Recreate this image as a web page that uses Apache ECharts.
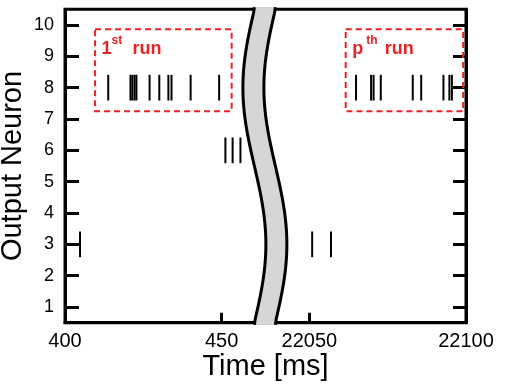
<!DOCTYPE html>
<html>
<head>
<meta charset="utf-8">
<style>
  html, body { margin: 0; padding: 0; background: #fff; }
  #chart { width: 510px; height: 387px; }
</style>
<script src="https://cdn.jsdelivr.net/npm/echarts@6/dist/echarts.min.js"></script>
</head>
<body>
<div id="chart"></div>
<script>
// spike times in ms, one array per neuron and per stretch of time
const run1Neuron8 = [413.8, 420.9, 421.5, 422.2, 422.8, 427.0, 430.1, 433.0, 434.0, 440.1, 449.2];
const run1Neuron6 = [451.2, 453.5, 456.0];
const run1Neuron3 = [404.8];
const lateNeuron3 = [22050.9, 22056.9];
const runPNeuron8 = [22064.9, 22069.7, 22070.5, 22072.8, 22083.0, 22085.7, 22092.8, 22094.7, 22095.5];

const xTickLabels = [400, 450, 22050, 22100];
const xMinorTicks = [450, 22050];
const yTicks = [1, 2, 3, 4, 5, 6, 7, 8, 9, 10];

// dashed boxes round the two runs
const boxX = [[409.6, 453.2], [22061.6, 22099.1]];
const boxY = [7.25, 9.86];
const boxLabel = ['1', 'p'];
const boxSup = ['st', 'th'];

// broken time axis: the late part is moved right after the early part
const breakShift = 21572;
function toAxis(t) { return t > 10000 ? t - breakShift : t; }
function fromAxis(v) { return v > 470 ? v + breakShift : v; }

const font = '"Liberation Sans", Arial, Helvetica, sans-serif';
const red = '#ec2224';

const chart = echarts.init(document.getElementById('chart'));

const spikeData = [];
run1Neuron8.forEach((t) => spikeData.push([toAxis(t), 8]));
run1Neuron6.forEach((t) => spikeData.push([toAxis(t), 6]));
run1Neuron3.forEach((t) => spikeData.push([toAxis(t), 3]));
lateNeuron3.forEach((t) => spikeData.push([toAxis(t), 3]));
runPNeuron8.forEach((t) => spikeData.push([toAxis(t), 8]));

// break band (S shape), in axis units
const bandCenter = 463.8;
const bandSwing = 3.67;
const bandHalf = 3.35;

const labelPos = [
  { main: 6.5, sup: 16.5, run: 37.5 },
  { main: 6.5, sup: 20.5, run: 39.0 },
];

const option = {
  animation: false,
  grid: {
    left: 65,
    right: 44,
    top: 9.3,
    bottom: 64.3,
    outerBoundsMode: 'none',
    containLabel: false,
    show: true,
    borderColor: '#000',
    borderWidth: 3,
  },
  xAxis: {
    type: 'value',
    min: 400,
    max: 528,
    axisLine: { show: true, lineStyle: { color: '#000', width: 3 } },
    axisTick: {
      show: true,
      inside: true,
      length: 10,
      customValues: xMinorTicks.map(toAxis),
      lineStyle: { color: '#000', width: 3 },
    },
    axisLabel: {
      customValues: xTickLabels.map(toAxis),
      formatter: (v) => String(Math.round(fromAxis(v))),
      color: '#000',
      fontSize: 20,
      fontFamily: font,
      margin: 9,
    },
    splitLine: { show: false },
    name: 'Time [ms]',
    nameLocation: 'middle',
    nameGap: 29.5,
    nameMoveOverlap: false,
    nameTextStyle: { fontSize: 29, color: '#000', fontFamily: font },
  },
  yAxis: [
    {
      type: 'value',
      min: 0.5,
      max: 10.5,
      axisLine: { show: true, lineStyle: { color: '#000', width: 3 } },
      axisTick: {
        show: true,
        inside: true,
        length: 14,
        customValues: yTicks,
        lineStyle: { color: '#000', width: 3 },
      },
      axisLabel: {
        customValues: yTicks,
        color: '#000',
        fontSize: 18,
        fontFamily: font,
        margin: 11,
      },
      splitLine: { show: false },
      name: 'Output Neuron',
      nameLocation: 'middle',
      nameGap: 38,
      nameMoveOverlap: false,
      nameTextStyle: { fontSize: 29, color: '#000', fontFamily: font },
    },
    {
      type: 'value',
      position: 'right',
      min: 0.5,
      max: 10.5,
      axisLine: { show: true, lineStyle: { color: '#000', width: 3 } },
      axisTick: {
        show: true,
        inside: true,
        length: 13,
        customValues: yTicks,
        lineStyle: { color: '#000', width: 3 },
      },
      axisLabel: { show: false },
      splitLine: { show: false },
    },
  ],
  series: [
    {
      name: 'spikes',
      type: 'custom',
      silent: true,
      z: 3,
      data: spikeData,
      renderItem(params, api) {
        const x = api.value(0);
        const n = api.value(1);
        const a = api.coord([x, n + 0.41]);
        const b = api.coord([x, n - 0.41]);
        return {
          type: 'line',
          shape: { x1: a[0], y1: a[1], x2: b[0], y2: b[1] },
          style: { stroke: '#000', lineWidth: 2 },
        };
      },
    },
    {
      name: 'boxes',
      type: 'custom',
      silent: true,
      z: 4,
      data: boxX.map((b, i) => [toAxis(b[0]), toAxis(b[1]), i]),
      renderItem(params, api) {
        const i = api.value(2);
        const p0 = api.coord([api.value(0), boxY[1]]);
        const p1 = api.coord([api.value(1), boxY[0]]);
        const lp = labelPos[i];
        const textStyle = (text, x, y, size) => ({
          type: 'text',
          x: x,
          y: y,
          style: {
            text: text,
            fill: red,
            font: 'bold ' + size + 'px ' + font,
            align: 'left',
            verticalAlign: 'middle',
          },
        });
        return {
          type: 'group',
          children: [
            {
              type: 'rect',
              shape: { x: p0[0], y: p0[1], width: p1[0] - p0[0], height: p1[1] - p0[1] },
              style: { fill: 'none', stroke: red, lineWidth: 2, lineDash: [6, 4] },
            },
            textStyle(boxLabel[i], p0[0] + lp.main, p0[1] + 20, 18),
            textStyle(boxSup[i], p0[0] + lp.sup, p0[1] + 11, 12),
            textStyle('run', p0[0] + lp.run, p0[1] + 20, 18),
          ],
        };
      },
    },
    {
      name: 'break',
      type: 'custom',
      silent: true,
      z: 5,
      data: [[bandCenter, 0]],
      renderItem(params, api) {
        const c0 = api.value(0);
        const left = [];
        const right = [];
        for (let i = 0; i <= 80; i++) {
          const y = 0.5 + i / 8;
          const c = c0 - bandSwing * Math.sin((2 * Math.PI * (10.5 - y)) / 10);
          left.push(api.coord([c - bandHalf, y]));
          right.push(api.coord([c + bandHalf, y]));
        }
        // reach over the axis lines so they look cut
        left[0][1] += 2; right[0][1] += 2;
        left[80][1] -= 2; right[80][1] -= 2;
        const fill = left.concat(right.slice().reverse());
        return {
          type: 'group',
          children: [
            { type: 'polygon', shape: { points: fill }, style: { fill: '#d6d6d6', stroke: 'none' } },
            { type: 'polyline', shape: { points: left }, style: { stroke: '#000', lineWidth: 3, fill: 'none' } },
            { type: 'polyline', shape: { points: right }, style: { stroke: '#000', lineWidth: 3, fill: 'none' } },
          ],
        };
      },
    },
  ],
};

chart.setOption(option);
</script>
</body>
</html>
